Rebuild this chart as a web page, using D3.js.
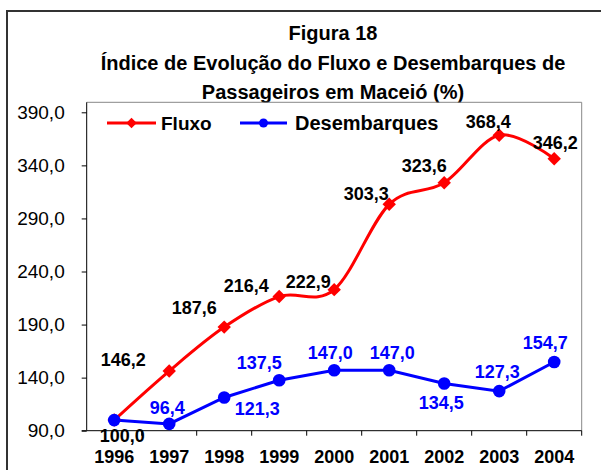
<!DOCTYPE html>
<html>
<head>
<meta charset="utf-8">
<script src="https://cdn.jsdelivr.net/npm/d3@7"></script>
<style>
  body { margin: 0; background: #fff; }
  text { font-family: Arial, "Liberation Sans", sans-serif; }
</style>
</head>
<body>
<div id="chart"></div>
<script>
// data
var years = ["1996", "1997", "1998", "1999", "2000", "2001", "2002", "2003", "2004"];
var fluxo = [100.0, 146.2, 187.6, 216.4, 222.9, 303.3, 323.6, 368.4, 346.2];
var desembarques = [100.0, 96.4, 121.3, 137.5, 147.0, 147.0, 134.5, 127.3, 154.7];
var yTicks = [90, 140, 190, 240, 290, 340, 390];
var titleLines = ["Figura 18", "Índice de Evolução do Fluxo e Desembarques de", "Passageiros em Maceió (%)"];

// hand placed label offsets (px from the point), as in the original sheet
var fluxoLabelOffset = [[8, 16], [-46, -11], [-30, -19], [-33, -11], [-26, -8], [-23, -11], [-20, -17], [-11, -14], [1, -16]];
var desembLabelOffset = [null, [-2, -16], [33, 11], [-20, -18], [-4, -18], [3, -18], [-3, 19], [-2, -19], [-9, -19]];

var WIDTH = 601, HEIGHT = 470;
var plot = { left: 86.7, right: 581.7, top: 102.3, bottom: 430.7 };

var svg = d3.select("#chart").append("svg")
    .attr("width", WIDTH)
    .attr("height", HEIGHT);

// outer frame
svg.append("rect")
    .attr("x", 7).attr("y", 11)
    .attr("width", 610).attr("height", 480)
    .attr("fill", "none")
    .attr("stroke", "#333")
    .attr("stroke-width", 2);

// title
svg.append("g").selectAll("text")
    .data(titleLines)
    .enter().append("text")
    .attr("x", 333)
    .attr("y", function(d, i) { return 33 + i * 29.5; })
    .attr("dy", "0.35em")
    .attr("text-anchor", "middle")
    .style("font-size", "20px")
    .style("font-weight", "bold")
    .text(function(d) { return d; });

var xScale = d3.scaleBand()
    .domain(years)
    .range([plot.left, plot.right])
    .paddingInner(0).paddingOuter(0);

var yScale = d3.scaleLinear()
    .domain([90, 390])
    .range([plot.bottom, 112.3]);

function cx(i) { return xScale(years[i]) + xScale.bandwidth() / 2; }

// plot area frame (top and right in grey)
svg.append("path")
    .attr("d", "M" + plot.left + "," + plot.top + "H" + plot.right + "V" + plot.bottom)
    .attr("fill", "none")
    .attr("stroke", "#888")
    .attr("stroke-width", 1);

// y axis
var yAxis = d3.axisLeft(yScale)
    .tickValues(yTicks)
    .tickSize(5)
    .tickPadding(17)
    .tickFormat(function(d) { return d3.format(".1f")(d).replace(".", ","); });

var gy = svg.append("g")
    .attr("class", "axis y-axis")
    .attr("transform", "translate(" + plot.left + ",0)")
    .call(yAxis);
gy.select(".domain").attr("d", "M-5," + plot.bottom + "H0V" + plot.top);
gy.selectAll("text")
    .style("font-size", "19px")
    .attr("fill", "#000");

// x axis: labels at centres, ticks at boundaries
var xAxis = d3.axisBottom(xScale).tickSize(0).tickPadding(20);
var gx = svg.append("g")
    .attr("class", "axis x-axis")
    .attr("transform", "translate(0," + plot.bottom + ")")
    .call(xAxis);
gx.select(".domain").attr("d", "M" + plot.left + ",0H" + plot.right);
gx.selectAll("text")
    .style("font-size", "18px")
    .style("font-weight", "bold")
    .attr("fill", "#000");
gx.selectAll(".bound")
    .data(years.slice(1).concat(["end"]))
    .enter().append("line")
    .attr("class", "bound")
    .attr("x1", function(d) { return d === "end" ? plot.right : xScale(d); })
    .attr("x2", function(d) { return d === "end" ? plot.right : xScale(d); })
    .attr("y1", 0).attr("y2", 5)
    .attr("stroke", "#000");
svg.selectAll(".domain, .tick line").attr("stroke", "#000");

// lines
var smooth = d3.line()
    .x(function(d, i) { return cx(i); })
    .y(function(d) { return yScale(d); })
    .curve(d3.curveCardinal.tension(0));
var straight = d3.line()
    .x(function(d, i) { return cx(i); })
    .y(function(d) { return yScale(d); });

svg.append("path")
    .attr("d", smooth(fluxo))
    .attr("fill", "none")
    .attr("stroke", "#ff0000")
    .attr("stroke-width", 3);

svg.append("path")
    .attr("d", straight(desembarques))
    .attr("fill", "none")
    .attr("stroke", "#0000ff")
    .attr("stroke-width", 3);

var diamond = d3.symbol().type(d3.symbolDiamond2).size(115);

svg.append("g").selectAll("path")
    .data(fluxo)
    .enter().append("path")
    .attr("d", diamond)
    .attr("transform", function(d, i) { return "translate(" + cx(i) + "," + yScale(d) + ")"; })
    .attr("fill", "#ff0000");

svg.append("g").selectAll("circle")
    .data(desembarques)
    .enter().append("circle")
    .attr("cx", function(d, i) { return cx(i); })
    .attr("cy", function(d) { return yScale(d); })
    .attr("r", 6.3)
    .attr("fill", "#0000ff");

function fmt(v) { return d3.format(".1f")(v).replace(".", ","); }

// value labels
svg.append("g").selectAll("text")
    .data(fluxo)
    .enter().append("text")
    .attr("x", function(d, i) { return cx(i) + fluxoLabelOffset[i][0]; })
    .attr("y", function(d, i) { return yScale(d) + fluxoLabelOffset[i][1]; })
    .attr("dy", "0.35em")
    .attr("text-anchor", "middle")
    .style("font-size", "18px")
    .style("font-weight", "bold")
    .attr("fill", "#000")
    .text(fmt);

svg.append("g").selectAll("text")
    .data(desembarques.map(function(v, i) { return { v: v, i: i }; })
        .filter(function(d) { return desembLabelOffset[d.i]; }))
    .enter().append("text")
    .attr("x", function(d) { return cx(d.i) + desembLabelOffset[d.i][0]; })
    .attr("y", function(d) { return yScale(d.v) + desembLabelOffset[d.i][1]; })
    .attr("dy", "0.35em")
    .attr("text-anchor", "middle")
    .style("font-size", "18px")
    .style("font-weight", "bold")
    .attr("fill", "#0000ff")
    .text(function(d) { return fmt(d.v); });

// legend
var legend = svg.append("g").attr("class", "legend");
legend.append("line")
    .attr("x1", 107).attr("x2", 156).attr("y1", 123).attr("y2", 123)
    .attr("stroke", "#ff0000").attr("stroke-width", 3);
legend.append("path")
    .attr("d", d3.symbol().type(d3.symbolDiamond2).size(70))
    .attr("transform", "translate(131.5,123)")
    .attr("fill", "#ff0000");
legend.append("text")
    .attr("x", 161).attr("y", 123).attr("dy", "0.35em")
    .style("font-size", "19px").style("font-weight", "bold")
    .text("Fluxo");
legend.append("line")
    .attr("x1", 240).attr("x2", 287).attr("y1", 123).attr("y2", 123)
    .attr("stroke", "#0000ff").attr("stroke-width", 3);
legend.append("circle")
    .attr("cx", 263.5).attr("cy", 123).attr("r", 4.5)
    .attr("fill", "#0000ff");
legend.append("text")
    .attr("x", 295).attr("y", 123).attr("dy", "0.35em")
    .style("font-size", "20px").style("font-weight", "bold")
    .text("Desembarques");
</script>
</body>
</html>
